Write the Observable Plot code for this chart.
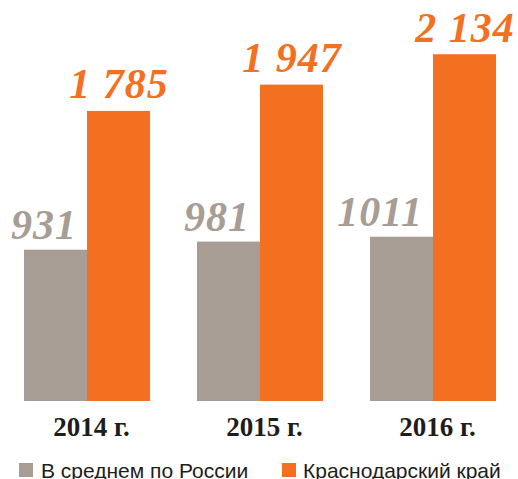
<!DOCTYPE html>
<html>
<head>
<meta charset="utf-8">
<script src="https://cdn.jsdelivr.net/npm/d3@7"></script>
<script src="https://cdn.jsdelivr.net/npm/@observablehq/plot@0.6"></script>
<style>
  html, body { margin: 0; padding: 0; background: #fff; }
  #wrap { position: relative; width: 518px; height: 479px; overflow: hidden; }
  .sw { position: absolute; width: 14px; height: 14px; top: 463px; }
  .lt { position: absolute; top: 460px; font-family: "Liberation Sans", Arial, sans-serif; font-size: 21px; line-height: 21px; color: #1d1d1b; white-space: nowrap; }
  .vlab text { letter-spacing: 1px; }
</style>
</head>
<body>
<div id="wrap">
  <div id="chart"></div>
  <div id="legend"></div>
</div>
<script>
const years = ["2014 г.", "2015 г.", "2016 г."];
const series = ["В среднем по России", "Краснодарский край"];
const russia = [931, 981, 1011];
const krasnodar = [1785, 1947, 2134];
const colors = ["#a89d94", "#f37021"];

const data = [];
years.forEach((y, i) => {
  data.push({year: y, series: series[0], value: russia[i]});
  data.push({year: y, series: series[1], value: krasnodar[i]});
});

const spaced = d3.formatLocale({thousands: "\u00a0", grouping: [3], decimal: ","}).format(",");

const labelFont = {fontFamily: "Liberation Serif, serif", fontWeight: "bold", fontStyle: "italic", fontSize: 42, lineAnchor: "bottom", className: "vlab"};

const chart = Plot.plot({
  width: 518,
  height: 448,
  marginLeft: 23,
  marginRight: 21,
  marginTop: 11,
  marginBottom: 47,
  style: {color: "#1d1d1b", background: "transparent"},
  fx: {domain: years, paddingInner: 0.27, paddingOuter: 0, label: null},
  x: {domain: series, padding: 0, axis: null},
  y: {domain: [0, 2400], axis: null},
  color: {domain: series, range: colors},
  marks: [
    Plot.barY(data, {fx: "year", x: "series", y: "value", fill: "series"}),
    Plot.text(data.filter(d => d.series === series[0]), {
      fx: "year", x: "series", y: "value", text: d => String(d.value),
      fill: colors[0], textAnchor: "end", dx: 21, dy: -11, ...labelFont
    }),
    Plot.text(data.filter(d => d.series === series[1]), {
      fx: "year", x: "series", y: "value", text: d => spaced(d.value),
      fill: colors[1], textAnchor: "middle", dx: 0, dy: -13, ...labelFont
    }),
    Plot.axisFx({
      anchor: "bottom", tickSize: 0, tickPadding: 15, label: null, dx: 4,
      fontFamily: "Liberation Serif, serif", fontWeight: "bold", fontSize: 27
    })
  ]
});
document.getElementById("chart").appendChild(chart);

const legend = document.getElementById("legend");
const items = [
  {sw: 19, tx: 41},
  {sw: 282, tx: 303}
];
series.forEach((s, i) => {
  const sw = document.createElement("div");
  sw.className = "sw";
  sw.style.left = items[i].sw + "px";
  sw.style.background = colors[i];
  legend.appendChild(sw);
  const t = document.createElement("div");
  t.className = "lt";
  t.style.left = items[i].tx + "px";
  t.textContent = s;
  legend.appendChild(t);
});
</script>
</body>
</html>
